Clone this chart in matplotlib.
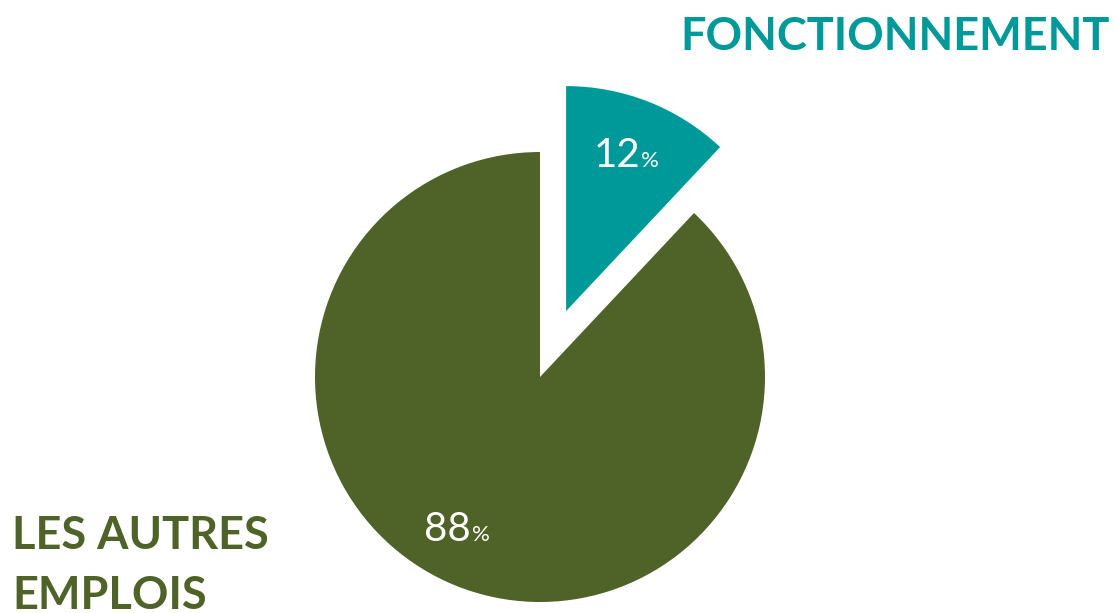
import matplotlib
matplotlib.use("Agg")
import matplotlib.pyplot as plt

categories = ["FONCTIONNEMENT", "LES AUTRES\nEMPLOIS"]
values = [12, 88]
colors = ["#009999", "#4F6228"]

W, H = 1116, 613
fig = plt.figure(figsize=(W / 100, H / 100), dpi=100)
ax = fig.add_axes([0, 0, 1, 1])

def py(y):
    return H - y

R = 225
wedges, _ = ax.pie(values, colors=colors, startangle=90, counterclock=False,
                   radius=R, center=(540, py(377)), explode=[0.315 * R, 0],
                   wedgeprops=dict(linewidth=0), frame=True)
ax.set_xlim(0, W)
ax.set_ylim(0, H)
ax.set_aspect("equal")
ax.axis("off")

font = "Lato"
# percentage labels
pct_pos = [(640, py(167)), (471, py(541))]
for v, (x, y) in zip(values, pct_pos):
    ax.text(x, y, f"{v}", color="white", fontsize=29, family=font,
            ha="right", va="baseline", zorder=5)
    ax.text(x + 1, y, "%", color="white", fontsize=16, family=font,
            ha="left", va="baseline", zorder=5)

# category labels
ax.text(1110, py(50), categories[0], color=colors[0], fontsize=32.5,
        fontweight="bold", family=font, ha="right", va="baseline")
lines = categories[1].split("\n")
ax.text(12, py(549), lines[0], color=colors[1], fontsize=32.5,
        fontweight="bold", family=font, ha="left", va="baseline")
ax.text(12, py(609), lines[1], color=colors[1], fontsize=32.5,
        fontweight="bold", family=font, ha="left", va="baseline")

fig.savefig("out.png", dpi=100)
